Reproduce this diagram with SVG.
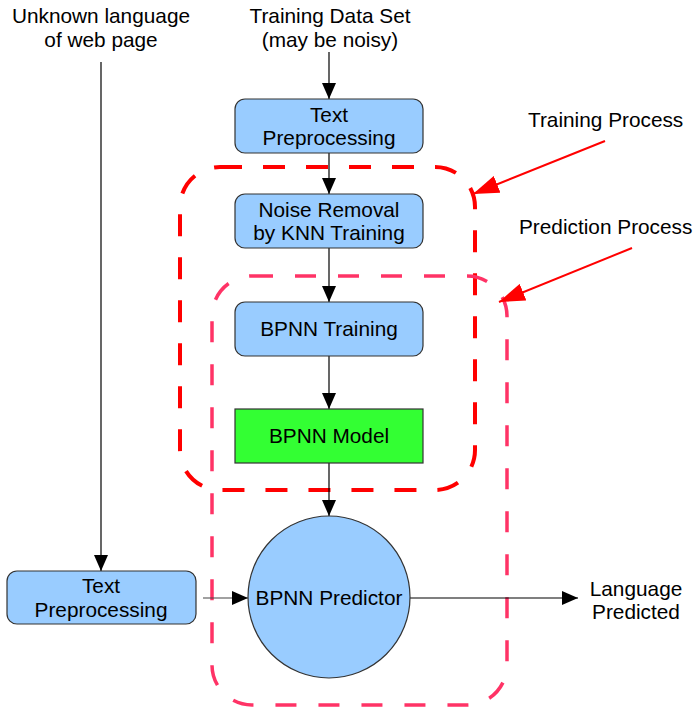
<svg xmlns="http://www.w3.org/2000/svg" width="696" height="710" viewBox="0 0 696 710">
  <style>
    text { font-family: "Liberation Sans", Arial, sans-serif; font-size: 20.8px; fill: #000; }
    .c { text-anchor: middle; }
    .box { fill: #99CCFF; stroke: #333; stroke-width: 1.2; }
    .model { fill: #33FF33; stroke: #333; stroke-width: 1.2; }
    .edge { stroke: #000; stroke-width: 1.2; fill: none; marker-end: url(#arrow); }
    .note { stroke: #FF0000; stroke-width: 2; fill: none; marker-end: url(#redArrow); }
    .train { fill: none; stroke: #FF0000; stroke-width: 4; stroke-dasharray: 22 21; }
    .predict { fill: none; stroke: #FF3366; stroke-width: 3.5; stroke-dasharray: 21 22; }
  </style>
  <defs>
    <marker id="arrow" markerUnits="userSpaceOnUse" markerWidth="18" markerHeight="14" refX="16" refY="7" orient="auto">
      <path d="M0,0 L16,7 L0,14 Z" fill="#000"/>
    </marker>
    <marker id="redArrow" markerUnits="userSpaceOnUse" markerWidth="28" markerHeight="18" refX="26" refY="9" orient="auto">
      <path d="M0,0 L26,9 L0,18 Z" fill="#FF0000"/>
    </marker>
  </defs>

  <!-- process regions -->
  <g id="regions">
    <rect id="training-region" class="train" x="180" y="167" width="295" height="323" rx="40"/>
    <rect id="prediction-region" class="predict" x="212" y="276" width="295" height="429" rx="40"/>
  </g>

  <!-- connectors -->
  <g id="connectors">
    <line class="edge" x1="329" y1="52" x2="329" y2="99"/>
    <line class="edge" x1="329" y1="153" x2="329" y2="194"/>
    <line class="edge" x1="329" y1="248" x2="329" y2="302"/>
    <line class="edge" x1="329" y1="356" x2="329" y2="409"/>
    <line class="edge" x1="329" y1="463" x2="329" y2="516"/>
    <line class="edge" x1="101" y1="62" x2="101" y2="571"/>
    <line class="edge" x1="203" y1="598" x2="248" y2="598" style="stroke:#444"/>
    <line class="edge" x1="410" y1="598" x2="578" y2="598"/>
    <line class="note" x1="605" y1="141" x2="473" y2="194"/>
    <line class="note" x1="632" y1="248" x2="499" y2="302"/>
  </g>

  <!-- free labels -->
  <g id="label-training-data">
    <text class="c" x="330" y="23">Training Data Set</text>
    <text class="c" x="330" y="47">(may be noisy)</text>
  </g>
  <g id="label-unknown">
    <text class="c" x="101" y="23">Unknown language</text>
    <text class="c" x="101" y="47">of web page</text>
  </g>
  <g id="label-training-process">
    <text x="528" y="127">Training Process</text>
  </g>
  <g id="label-prediction-process">
    <text x="519" y="234">Prediction Process</text>
  </g>
  <g id="label-output">
    <text class="c" x="636" y="596">Language</text>
    <text class="c" x="636" y="619">Predicted</text>
  </g>

  <!-- nodes -->
  <g id="text-preprocessing-train">
    <rect class="box" x="235" y="99" width="188" height="54" rx="10"/>
    <text class="c" x="329" y="122">Text</text>
    <text class="c" x="329" y="145">Preprocessing</text>
  </g>
  <g id="noise-removal">
    <rect class="box" x="235" y="194" width="188" height="54" rx="10"/>
    <text class="c" x="329" y="217">Noise Removal</text>
    <text class="c" x="329" y="240">by KNN Training</text>
  </g>
  <g id="bpnn-training">
    <rect class="box" x="235" y="302" width="188" height="54" rx="10"/>
    <text class="c" x="329" y="336">BPNN Training</text>
  </g>
  <g id="bpnn-model">
    <rect class="model" x="235" y="409" width="188" height="54"/>
    <text class="c" x="329" y="443">BPNN Model</text>
  </g>
  <g id="bpnn-predictor">
    <circle class="box" cx="329" cy="597" r="81"/>
    <text class="c" x="329" y="605">BPNN Predictor</text>
  </g>
  <g id="text-preprocessing-input">
    <rect class="box" x="7" y="571" width="189" height="53" rx="10"/>
    <text class="c" x="101" y="593">Text</text>
    <text class="c" x="101" y="617">Preprocessing</text>
  </g>
</svg>
